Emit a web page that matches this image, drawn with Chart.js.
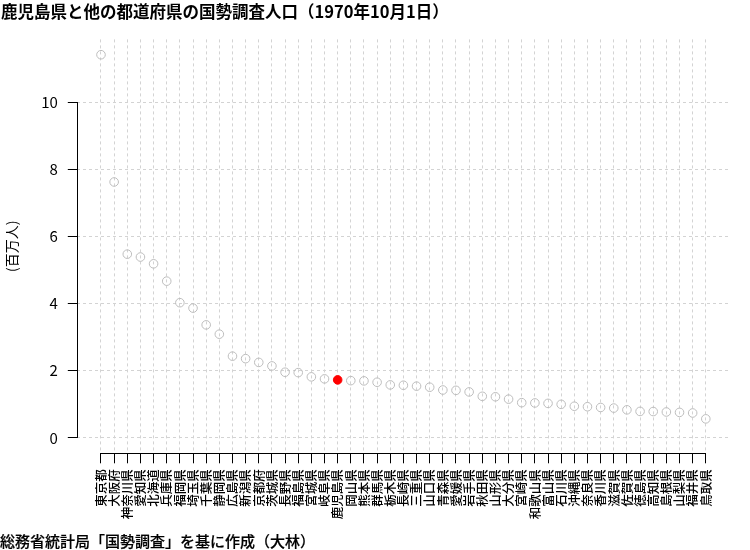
<!DOCTYPE html>
<html>
<head>
<meta charset="utf-8">
<script src="https://cdn.jsdelivr.net/npm/chart.js@4.4.1/dist/chart.umd.min.js"></script>
<style>
  body { margin: 0; background: #fff; }
  #wrap { position: relative; width: 750px; height: 550px; font-family: "Noto Sans CJK JP", sans-serif; }
  #title { position: absolute; left: 1px; top: -1px; font-size: 16.5px; font-weight: bold; color: #000; white-space: nowrap; }
  #note { position: absolute; left: 0px; top: 530px; font-size: 15px; font-weight: 500; color: #000; white-space: nowrap; -webkit-text-stroke: 0.2px #000; }
</style>
</head>
<body>
<div id="wrap">
  <canvas id="popChart" width="750" height="550"></canvas>
  <div id="title">鹿児島県と他の都道府県の国勢調査人口（1970年10月1日）</div>
  <div id="note">総務省統計局「国勢調査」を基に作成（大林）</div>
</div>
<script>
// 1970年10月1日 国勢調査人口（百万人）、多い順
var prefectures = ["東京都", "大阪府", "神奈川県", "愛知県", "北海道", "兵庫県", "福岡県", "埼玉県",
  "千葉県", "静岡県", "広島県", "新潟県", "京都府", "茨城県", "長野県", "福島県", "宮城県", "岐阜県",
  "鹿児島県", "岡山県", "熊本県", "群馬県", "栃木県", "長崎県", "三重県", "山口県", "青森県", "愛媛県",
  "岩手県", "秋田県", "山形県", "大分県", "宮崎県", "和歌山県", "富山県", "石川県", "沖縄県", "奈良県",
  "香川県", "滋賀県", "佐賀県", "徳島県", "高知県", "島根県", "山梨県", "福井県", "鳥取県"];

var population = [11.408, 7.620, 5.472, 5.386, 5.184, 4.668, 4.027, 3.866,
  3.367, 3.090, 2.436, 2.361, 2.250, 2.144, 1.957, 1.946, 1.819, 1.759,
  1.729, 1.707, 1.700, 1.659, 1.580, 1.570, 1.543, 1.511, 1.428, 1.418,
  1.371, 1.241, 1.226, 1.156, 1.051, 1.043, 1.030, 1.002, 0.945, 0.930,
  0.908, 0.890, 0.838, 0.791, 0.787, 0.774, 0.762, 0.744, 0.569];

var yTicks = [0, 2, 4, 6, 8, 10];
var highlight = "鹿児島県";

var font = "'Noto Sans CJK JP', sans-serif";

// R風の軸線（目盛りの範囲だけ）
var axisLines = {
  id: 'axisLines',
  afterDraw: function(chart) {
    var ctx = chart.ctx;
    var xs = chart.scales.x, ys = chart.scales.y;
    var area = chart.chartArea;
    ctx.save();
    ctx.strokeStyle = '#000';
    ctx.lineWidth = 1;
    ctx.beginPath();
    ctx.moveTo(Math.round(area.left) + 0.5, ys.getPixelForValue(yTicks[0]));
    ctx.lineTo(Math.round(area.left) + 0.5, ys.getPixelForValue(yTicks[yTicks.length - 1]));
    ctx.moveTo(xs.getPixelForValue(1), Math.round(area.bottom) + 0.5);
    ctx.lineTo(xs.getPixelForValue(prefectures.length), Math.round(area.bottom) + 0.5);
    ctx.stroke();
    ctx.restore();
  }
};

var points = population.map(function(v, i) {
  return { x: i + 1, y: v };
});
var fillColors = prefectures.map(function(p) {
  return p === highlight ? '#ff0000' : 'rgba(0,0,0,0)';
});
var borderColors = prefectures.map(function(p) {
  return p === highlight ? '#ff0000' : '#bdbdbd';
});

var ctx = document.getElementById('popChart').getContext('2d');
var chart = new Chart(ctx, {
  type: 'scatter',
  data: {
    datasets: [{
      data: points,
      pointRadius: 4.3,
      pointBorderWidth: 1,
      pointBackgroundColor: fillColors,
      pointBorderColor: borderColors
    }]
  },
  options: {
    responsive: false,
    animation: false,
    layout: { padding: { left: 0, right: 20, top: 39.4, bottom: 16.7 } },
    plugins: {
      legend: { display: false },
      tooltip: { enabled: false }
    },
    scales: {
      x: {
        type: 'linear',
        min: -0.84,
        max: 48.84,
        afterBuildTicks: function(scale) {
          scale.ticks = prefectures.map(function(p, i) { return { value: i + 1 }; });
        },
        afterFit: function(scale) { scale.height = 80; },
        border: { display: false, dash: [3, 3] },
        grid: {
          color: '#d3d3d3',
          tickColor: '#000',
          tickLength: 10,
          tickBorderDash: []
        },
        ticks: {
          autoSkip: false,
          minRotation: 90,
          maxRotation: 90,
          padding: 6,
          color: '#000',
          font: { family: font, size: 12.5, weight: 500 },
          callback: function(value) { return prefectures[value - 1]; }
        }
      },
      y: {
        type: 'linear',
        min: -0.456,
        max: 11.864,
        afterBuildTicks: function(scale) {
          scale.ticks = yTicks.map(function(v) { return { value: v }; });
        },
        afterFit: function(scale) { scale.width = 76.8; },
        border: { display: false, dash: [3, 3] },
        grid: {
          color: '#d3d3d3',
          tickColor: '#000',
          tickLength: 9,
          tickBorderDash: []
        },
        title: {
          display: true,
          text: '(百万人)',
          color: '#000',
          font: { family: font, size: 14 },
          padding: { top: 3, bottom: 0 }
        },
        ticks: {
          padding: 10,
          color: '#000',
          font: { family: font, size: 15 }
        }
      }
    }
  },
  plugins: [axisLines]
});
</script>
</body>
</html>
